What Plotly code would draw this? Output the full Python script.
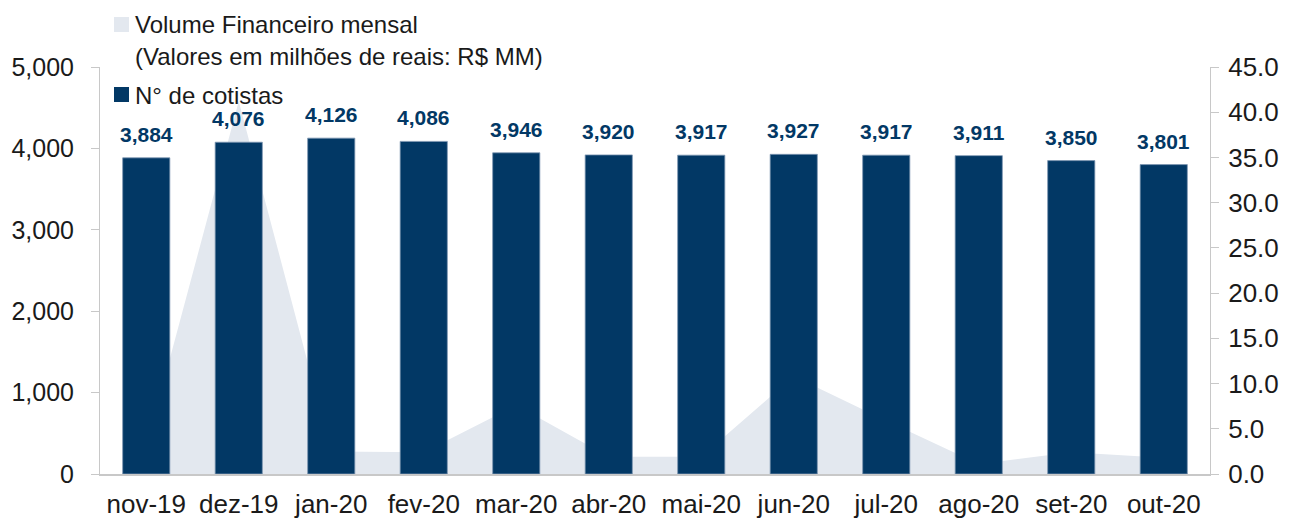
import plotly.graph_objects as go

categories = ["nov-19", "dez-19", "jan-20", "fev-20", "mar-20", "abr-20",
              "mai-20", "jun-20", "jul-20", "ago-20", "set-20", "out-20"]
cotistas = [3884, 4076, 4126, 4086, 3946, 3920, 3917, 3927, 3917, 3911, 3850, 3801]
volume = [3.0, 41.2, 2.5, 2.4, 7.6, 1.9, 1.9, 10.8, 5.9, 1.1, 2.4, 1.8]

volume_name = ["Volume Financeiro mensal", "(Valores em milhões de reais: R$ MM)"]
cotistas_name = "N° de cotistas"

FONT = "Liberation Sans, Arial, Helvetica, sans-serif"
NAVY = "#023865"
AREA = "#E3E8EF"
AXIS = "#C8C8C8"
TXT = "#1a1a1a"

# the page body adds an 8px margin, so the figure is drawn 8px in from the corner
OFF = 8
W, H = 1290 - OFF, 520 - OFF
ML, MR, MT, MB = 100 - OFF, 80, 67 - OFF, 46
PW, PH = W - ML - MR, H - MT - MB


def px_x(p):
    return (p - OFF - ML) / PW


def px_y(p):
    return (H - MB - (p - OFF)) / PH


fig = go.Figure()
fig.add_trace(go.Scatter(
    x=categories, y=volume, name="<br>".join(volume_name),
    mode="none", fill="tozeroy", fillcolor=AREA, yaxis="y", hoverinfo="skip",
    showlegend=False))
fig.add_trace(go.Bar(
    x=categories, y=cotistas, name=cotistas_name, yaxis="y2",
    marker=dict(color=NAVY, line=dict(color="#7F97B3", width=0.8)),
    width=0.51, showlegend=False))

annotations = []
for c, v in zip(categories, cotistas):
    annotations.append(dict(
        x=c, y=v, xref="x", yref="y2", text=f"{v:,}", showarrow=False,
        yanchor="bottom", yshift=10,
        font=dict(family=FONT, size=21, color=NAVY, weight="bold")))

# custom legend (squares + real text)
shapes = [
    dict(type="rect", xref="paper", yref="paper", x0=px_x(114), x1=px_x(129),
         y0=px_y(32), y1=px_y(17), fillcolor=AREA, line=dict(width=0)),
    dict(type="rect", xref="paper", yref="paper", x0=px_x(114), x1=px_x(129),
         y0=px_y(102), y1=px_y(87), fillcolor=NAVY, line=dict(width=0)),
]
legend_rows = [(volume_name[0], 24), (volume_name[1], 57), (cotistas_name, 95)]
for text, yc in legend_rows:
    annotations.append(dict(
        x=px_x(133), y=px_y(yc), xref="paper", yref="paper", text=text,
        showarrow=False, xanchor="left", yanchor="middle",
        font=dict(family=FONT, size=24, color=TXT)))

fig.update_layout(
    width=W, height=H,
    margin=dict(l=ML, r=MR, t=MT, b=MB, autoexpand=False),
    paper_bgcolor="white", plot_bgcolor="white",
    font=dict(family=FONT, size=26, color=TXT),
    showlegend=False,
    annotations=annotations, shapes=shapes,
    xaxis=dict(type="category", range=[-0.5, 11.5], showline=True, linecolor=AXIS,
               linewidth=1.5, ticks="", showgrid=False, tickfont=dict(size=26),
               ticklabelstandoff=6),
    yaxis=dict(side="right", range=[0, 45], dtick=5, tickformat=".1f",
               showline=True, linecolor=AXIS, linewidth=1, ticks="outside",
               ticklen=8, tickcolor=AXIS, showgrid=False, zeroline=False,
               tickfont=dict(size=26), ticklabelstandoff=4),
    yaxis2=dict(overlaying="y", side="left", range=[0, 5000], dtick=1000,
                tickformat=",", showline=True, linecolor=AXIS, linewidth=1,
                ticks="outside", ticklen=8, tickcolor=AXIS, showgrid=False,
                zeroline=False, tickfont=dict(size=25), ticklabelstandoff=12),
)

fig.write_html("out.html")
